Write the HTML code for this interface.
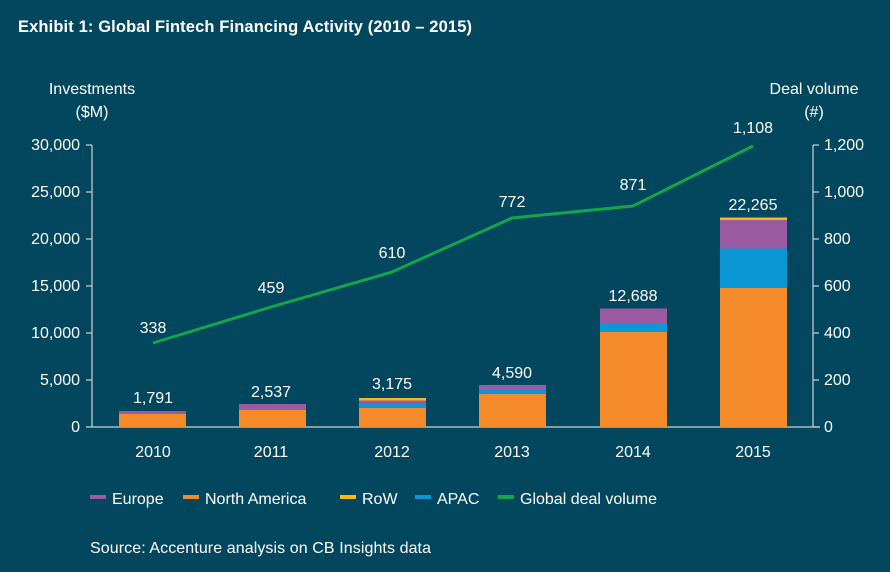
<!DOCTYPE html>
<html><head><meta charset="utf-8"><style>
html,body{margin:0;padding:0;background:#03475f;}
svg{display:block;font-family:"Liberation Sans",sans-serif;}
</style></head><body>
<svg width="890" height="572" viewBox="0 0 890 572">
<rect width="890" height="572" fill="#03475f"/>
<text x="18" y="32" fill="#fff" font-size="16.5" font-weight="bold" textLength="454">Exhibit 1: Global Fintech Financing Activity (2010 – 2015)</text>
<g fill="#fff" font-size="16">
<text x="92" y="94" text-anchor="middle">Investments</text>
<text x="92" y="117" text-anchor="middle">($M)</text>
<text x="814" y="94" text-anchor="middle">Deal volume</text>
<text x="814" y="117" text-anchor="middle">(#)</text>
<g text-anchor="end">
<text x="80" y="150">30,000</text><text x="80" y="197">25,000</text><text x="80" y="244">20,000</text>
<text x="80" y="291">15,000</text><text x="80" y="338">10,000</text><text x="80" y="385">5,000</text><text x="80" y="432">0</text>
</g>
<g text-anchor="start">
<text x="824" y="150">1,200</text><text x="824" y="197">1,000</text><text x="824" y="244">800</text>
<text x="824" y="291">600</text><text x="824" y="338">400</text><text x="824" y="385">200</text><text x="824" y="432">0</text>
</g>
<g text-anchor="middle">
<text x="153" y="457">2010</text><text x="271" y="457">2011</text><text x="392" y="457">2012</text>
<text x="512" y="457">2013</text><text x="633" y="457">2014</text><text x="753" y="457">2015</text>
</g>
</g>
<g stroke="#c9d3d8" stroke-width="1.2" fill="none">
<line x1="92" y1="145" x2="92" y2="427"/>
<line x1="86" y1="427" x2="820" y2="427"/>
<line x1="813" y1="145" x2="813" y2="427"/>
<g>
<line x1="86" y1="145" x2="92" y2="145"/><line x1="86" y1="192" x2="92" y2="192"/><line x1="86" y1="239" x2="92" y2="239"/><line x1="86" y1="286" x2="92" y2="286"/><line x1="86" y1="333" x2="92" y2="333"/><line x1="86" y1="380" x2="92" y2="380"/>
<line x1="813" y1="145" x2="819" y2="145"/><line x1="813" y1="192" x2="819" y2="192"/><line x1="813" y1="239" x2="819" y2="239"/><line x1="813" y1="286" x2="819" y2="286"/><line x1="813" y1="333" x2="819" y2="333"/><line x1="813" y1="380" x2="819" y2="380"/><line x1="813" y1="427" x2="819" y2="427"/>
</g>
</g>
<g>
<rect x="119" y="414" width="67" height="13" fill="#f58a2a"/><rect x="119" y="411" width="67" height="3" fill="#9a5ba3"/>
<rect x="239" y="410" width="67" height="17" fill="#f58a2a"/><rect x="239" y="404" width="67" height="6" fill="#9a5ba3"/>
<rect x="359" y="408" width="67" height="19" fill="#f58a2a"/><rect x="359" y="403" width="67" height="5" fill="#0b97d5"/><rect x="359" y="400.5" width="67" height="2.5" fill="#9a5ba3"/><rect x="359" y="398" width="67" height="2.5" fill="#fdb913"/>
<rect x="479" y="394" width="67" height="33" fill="#f58a2a"/><rect x="479" y="390" width="67" height="4" fill="#0b97d5"/><rect x="479" y="385" width="67" height="5" fill="#9a5ba3"/>
<rect x="600" y="332" width="67" height="95" fill="#f58a2a"/><rect x="600" y="324" width="67" height="8" fill="#0b97d5"/><rect x="600" y="308.5" width="67" height="15.5" fill="#9a5ba3"/>
<rect x="720" y="288" width="67" height="139" fill="#f58a2a"/><rect x="720" y="248.5" width="67" height="39.5" fill="#0b97d5"/><rect x="720" y="220" width="67" height="28.5" fill="#9a5ba3"/><rect x="720" y="217.5" width="67" height="2.5" fill="#fdb913"/>
</g>
<polyline points="153,343 271,307 392,272 512,218 633,206 753,146" fill="none" stroke="#13a54a" stroke-width="3"/>
<g fill="#fff" font-size="16" text-anchor="middle">
<text x="153" y="403">1,791</text><text x="271" y="397">2,537</text><text x="392" y="389">3,175</text>
<text x="512" y="378">4,590</text><text x="633" y="301">12,688</text><text x="753" y="210">22,265</text>
<text x="153" y="333">338</text><text x="271" y="293">459</text><text x="392" y="258">610</text>
<text x="512" y="207">772</text><text x="633" y="190">871</text><text x="753" y="133">1,108</text>
</g>
<g font-size="16" fill="#fff">
<rect x="90" y="495" width="16" height="4" fill="#9a5ba3"/><text x="112" y="504">Europe</text>
<rect x="183" y="495" width="16" height="4" fill="#f58a2a"/><text x="205" y="504">North America</text>
<rect x="340" y="495" width="16" height="4" fill="#fdb913"/><text x="362" y="504">RoW</text>
<rect x="415" y="495" width="16" height="4" fill="#0b97d5"/><text x="437" y="504">APAC</text>
<rect x="498" y="495" width="16" height="4" fill="#13a54a"/><text x="520" y="504">Global deal volume</text>
<text x="90" y="553" textLength="341">Source: Accenture analysis on CB Insights data</text>
</g>
</svg>
</body></html>
